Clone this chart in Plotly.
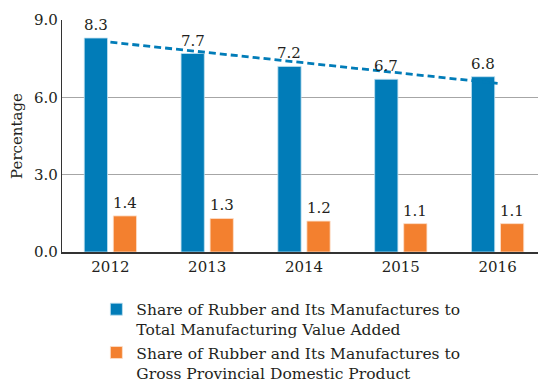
import numpy as np
import plotly.graph_objects as go

years = ["2012", "2013", "2014", "2015", "2016"]
share_mva = [8.3, 7.7, 7.2, 6.7, 6.8]
share_gpdp = [1.4, 1.3, 1.2, 1.1, 1.1]
name_mva = "Share of Rubber and Its Manufactures to<br>Total Manufacturing Value Added"
name_gpdp = "Share of Rubber and Its Manufactures to<br>Gross Provincial Domestic Product"
y_ticks = [0.0, 3.0, 6.0, 9.0]

BLUE = "#017CB8"
ORANGE = "#F3802F"
FONT = "DejaVu Serif"
TXT = "#231F20"
BARGAP = 0.40

# linear trendline of the blue series (as in the source chart)
idx = np.arange(len(years))
slope, intercept = np.polyfit(idx, share_mva, 1)
trend = list(intercept + slope * idx)

fig = go.Figure()
fig.add_trace(go.Bar(
    x=years, y=share_mva, name=name_mva,
    marker=dict(color=BLUE, line=dict(color="#BFE0F0", width=0.8)),
))
fig.add_trace(go.Bar(
    x=years, y=share_gpdp, name=name_gpdp,
    marker=dict(color=ORANGE, line=dict(color="#FCE0CC", width=0.8)),
))
fig.add_trace(go.Scatter(
    x=years, y=trend, mode="lines", showlegend=False, hoverinfo="skip",
    line=dict(color=BLUE, width=2.8, dash="7px,4px"),
))

# value labels above each bar (bar slot centre = category index -/+ quarter group width)
off = (1 - BARGAP) / 4
for i, (a, b) in enumerate(zip(share_mva, share_gpdp)):
    for xv, yv in ((i - off, a), (i + off, b)):
        fig.add_annotation(
            x=xv, y=yv, xref="x", yref="y", text=f"{yv:.1f}", showarrow=False,
            yanchor="bottom", yshift=2,
            font=dict(family=FONT, size=15, color=TXT),
        )

fig.update_layout(
    width=538, height=379,
    margin=dict(l=54, r=0, t=12, b=135, autoexpand=False),
    paper_bgcolor="white", plot_bgcolor="white",
    barmode="group", bargap=BARGAP, bargroupgap=0.2,
    font=dict(family=FONT, size=15, color=TXT),
    showlegend=True,
    legend=dict(
        orientation="v", x=0.071, xanchor="left", y=-0.175, yanchor="top",
        valign="top", font=dict(family=FONT, size=15.5, color=TXT),
        tracegroupgap=3, bgcolor="rgba(0,0,0,0)",
    ),
    xaxis=dict(
        type="category", showline=True, linecolor="#333333", linewidth=1.5,
        ticks="", tickfont=dict(family=FONT, size=15, color=TXT), showgrid=False,
        automargin=False,
    ),
    yaxis=dict(
        range=[0, 9], tickvals=y_ticks, ticktext=[f"{v:.1f}" for v in y_ticks],
        showline=True, linecolor="#333333", linewidth=1.2,
        showgrid=True, gridcolor="#A6A6A6", gridwidth=1,
        zeroline=False, ticks="", automargin=False,
        tickfont=dict(family=FONT, size=15, color=TXT),
        title=dict(text="Percentage", font=dict(family=FONT, size=15, color=TXT), standoff=11),
    ),
)

fig.write_html("out.html")
